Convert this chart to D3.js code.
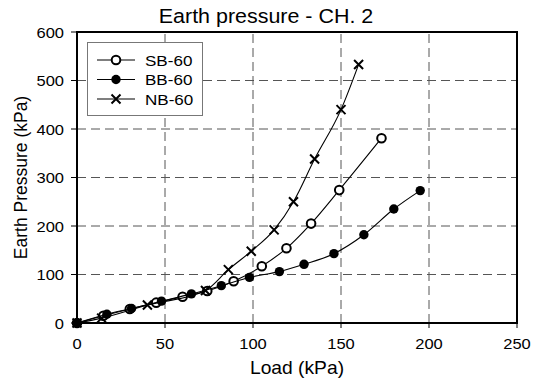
<!DOCTYPE html>
<html lang="en">
<head>
<meta charset="UTF-8">
<title>Earth pressure - CH. 2</title>
<style>
  body { margin: 0; background: #fff; }
  svg { display: block; font-family: "Liberation Sans", Arial, sans-serif; }
  .grid line { stroke: #555; stroke-width: 1; stroke-dasharray: 9,5; }
  .tick-label { font-size: 15px; fill: #000; }
  .axis-title { font-size: 17.5px; fill: #000; }
  .legend-label { font-size: 15.5px; fill: #000; }
</style>
</head>
<body>
<svg width="541" height="379"></svg>
<script src="https://d3js.org/d3.v7.min.js"></script>
<script>
// data: [load kPa, earth pressure kPa]
const seriesNames = ["SB-60", "BB-60", "NB-60"];
const sbData = [[0,0],[15,15],[30,29],[45,42],[60,54],[74,66],[89,86],[105,117],[119,154],[133,205],[149,274],[173,381]];
const bbData = [[0,0],[17,18],[31,30],[48,45],[65,60],[82,77],[98,94],[115,106],[129,121],[146,143],[163,182],[180,235],[195,273]];
const nbData = [[0,0],[14,10],[40,37],[73,67],[86,110],[99,148],[112,192],[123,250],[135,338],[150,440],[160,533]];
const xTicks = [0, 50, 100, 150, 200, 250];
const yTicks = [0, 100, 200, 300, 400, 500, 600];

const svg = d3.select("svg");
const margin = {left: 77, right: 24, top: 32, bottom: 56};
const W = 541, H = 379;
const sx = 1.1; // the reference text is a little wider than normal

const x = d3.scaleLinear().domain([0, 250]).range([margin.left, W - margin.right]);
const y = d3.scaleLinear().domain([0, 600]).range([H - margin.bottom, margin.top]);

function wideText(g, tx, ty, str, anchor, cls) {
  return g.append("text")
    .attr("class", cls)
    .attr("transform", `translate(${tx},${ty}) scale(${sx},1)`)
    .attr("text-anchor", anchor)
    .text(str);
}

// title (sits left of the plot centre in the original)
wideText(svg, 266, 23, "Earth pressure - CH. 2", "middle", null)
  .style("font-size", "19.5px");

// grid
const grid = svg.append("g").attr("class", "grid");
grid.selectAll(".vx").data(xTicks.slice(1, -1)).enter().append("line")
  .attr("x1", d => x(d)).attr("x2", d => x(d))
  .attr("y1", y(0)).attr("y2", y(600));
grid.selectAll(".hy").data(yTicks.slice(1, -1)).enter().append("line")
  .attr("x1", x(0)).attr("x2", x(250))
  .attr("y1", d => y(d)).attr("y2", d => y(d));

// ticks
svg.append("g").selectAll("line").data(yTicks).enter().append("line")
  .attr("x1", x(0) - 6).attr("x2", x(0))
  .attr("y1", d => y(d)).attr("y2", d => y(d))
  .attr("stroke", "#000");
svg.append("g").selectAll("line").data(xTicks).enter().append("line")
  .attr("x1", d => x(d)).attr("x2", d => x(d))
  .attr("y1", y(0)).attr("y2", y(0) + 5)
  .attr("stroke", "#000");

// tick labels
const yl = svg.append("g");
yTicks.forEach(d => wideText(yl, x(0) - 13, y(d) + 5.5, d, "end", "tick-label"));
const xl = svg.append("g");
xTicks.forEach(d => wideText(xl, x(d), y(0) + 26, d, "middle", "tick-label"));

// axis titles
wideText(svg, (x(0) + x(250)) / 2, 374, "Load (kPa)", "middle", "axis-title");
svg.append("text").attr("class", "axis-title")
  .attr("transform", `translate(27,${(y(0) + y(600)) / 2}) rotate(-90)`)
  .attr("text-anchor", "middle")
  .text("Earth Pressure (kPa)");

// frame
svg.append("rect")
  .attr("x", x(0)).attr("y", y(600))
  .attr("width", x(250) - x(0)).attr("height", y(0) - y(600))
  .attr("fill", "none").attr("stroke", "#000").attr("stroke-width", 2);

const line = d3.line().x(d => x(d[0])).y(d => y(d[1])).curve(d3.curveMonotoneX);

function drawMarker(g, type, cx, cy) {
  if (type === "open") {
    g.append("circle").attr("cx", cx).attr("cy", cy).attr("r", 4.3)
      .attr("fill", "#fff").attr("stroke", "#000").attr("stroke-width", 2);
  } else if (type === "filled") {
    g.append("circle").attr("cx", cx).attr("cy", cy).attr("r", 4.7)
      .attr("fill", "#000");
  } else {
    const s = 4.5;
    g.append("path")
      .attr("d", `M${cx - s},${cy - s}L${cx + s},${cy + s}M${cx - s},${cy + s}L${cx + s},${cy - s}`)
      .attr("stroke", "#000").attr("stroke-width", 2).attr("fill", "none");
  }
}

const series = [
  {name: seriesNames[0], data: sbData, marker: "open"},
  {name: seriesNames[1], data: bbData, marker: "filled"},
  {name: seriesNames[2], data: nbData, marker: "cross"}
];

series.forEach(s => {
  const g = svg.append("g");
  g.append("path").datum(s.data).attr("d", line)
    .attr("fill", "none").attr("stroke", "#000").attr("stroke-width", 1.1);
  s.data.forEach(d => drawMarker(g, s.marker, x(d[0]), y(d[1])));
});

// legend
const lg = svg.append("g");
lg.append("rect").attr("x", 87.5).attr("y", 42.5).attr("width", 115).attr("height", 73)
  .attr("fill", "#fff").attr("stroke", "#777").attr("stroke-width", 1);
series.forEach((s, i) => {
  const ly = 60 + i * 19.5;
  lg.append("line").attr("x1", 97).attr("x2", 135).attr("y1", ly).attr("y2", ly)
    .attr("stroke", "#000").attr("stroke-width", 1.2);
  drawMarker(lg, s.marker, 116, ly);
  wideText(lg, 145, ly + 5.5, s.name, "start", "legend-label");
});
</script>
</body>
</html>
